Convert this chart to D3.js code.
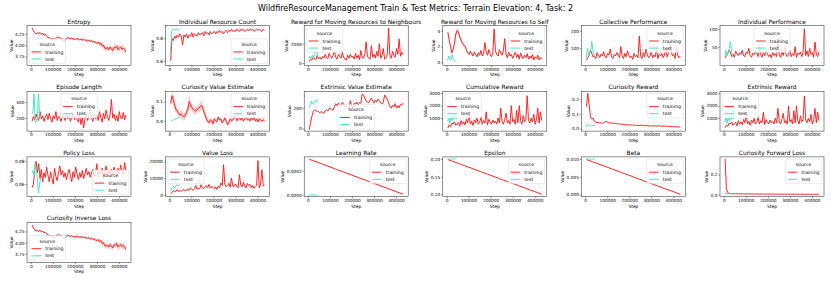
<!DOCTYPE html>
<html><head><meta charset="utf-8">
<script src="https://cdn.jsdelivr.net/npm/d3@7"></script>
<style>body{margin:0;background:#fff}svg{display:block}text{font-family:"DejaVu Sans",sans-serif;fill:#000}</style>
</head><body><svg id="c" width="831" height="283"></svg>
<script>
// ---------- DATA ----------
const suptitle = "WildfireResourceManagement Train & Test Metrics: Terrain Elevation: 4, Task: 2";
const seriesNames = ["training", "test"];
const xTickLabels = ["0","100000","200000","300000","400000"];

const trainSteps = [6000,12000,18000,24000,30000,36000,42000,48000,54000,60000,66000,72000,
78000,84000,90000,96000,102000,108000,114000,120000,126000,132000,138000,144000,
150000,156000,162000,168000,174000,180000,186000,192000,198000,204000,210000,216000,
222000,228000,234000,240000,246000,252000,258000,264000,270000,276000,282000,288000,
294000,300000,306000,312000,318000,324000,330000,336000,342000,348000,354000,360000,
366000,372000,378000,384000,390000,396000,402000,408000,414000,420000,426000,432000];
const testSteps = [5000,10000,15000,20000,25000,30000,35000,40000,45000];
const linSteps = [6000,60000,120000,180000,240000,300000,360000,432000];

const entropyTrain = [4.38,4.32,4.28,4.25,4.27,4.26,4.28,4.24,4.26,4.22,4.24,4.20,
4.17,4.16,4.15,4.14,4.15,4.13,4.15,4.17,4.18,4.15,4.16,4.13,
4.08,4.10,4.15,4.17,4.15,4.14,4.16,4.13,4.14,4.12,4.15,4.13,
4.12,4.13,4.11,4.13,4.10,4.12,4.09,4.11,4.08,4.10,4.07,4.08,
4.06,4.04,4.07,4.02,4.05,3.98,4.00,3.93,3.92,3.95,3.90,3.96,
3.92,3.88,3.95,3.94,3.98,3.90,3.93,3.96,3.91,3.94,3.90,3.85];
const entropyBand = [0.01,0.01,0.01,0.015,0.01,0.01,0.01,0.015,0.01,0.01,0.015,0.01,
0.015,0.01,0.01,0.015,0.02,0.01,0.015,0.01,0.02,0.015,0.01,0.015,
0.02,0.015,0.02,0.015,0.01,0.015,0.02,0.015,0.02,0.015,0.02,0.015,
0.02,0.02,0.025,0.02,0.03,0.02,0.025,0.03,0.02,0.03,0.025,0.03,
0.03,0.04,0.03,0.05,0.04,0.06,0.05,0.06,0.05,0.07,0.06,0.05,
0.06,0.08,0.05,0.07,0.06,0.09,0.07,0.06,0.08,0.07,0.06,0.07];
const entropyTest = [3.70,3.64,3.60,3.66,3.72,3.68,3.75,3.70,3.73];

const ircTrain = [0.60,0.80,0.78,0.82,0.80,0.83,0.81,0.84,0.82,0.74,0.83,0.81,
0.84,0.80,0.83,0.82,0.85,0.81,0.84,0.83,0.82,0.85,0.83,0.84,
0.85,0.82,0.86,0.84,0.85,0.83,0.86,0.84,0.85,0.86,0.84,0.86,
0.85,0.87,0.85,0.86,0.84,0.86,0.87,0.85,0.87,0.86,0.88,0.86,
0.87,0.86,0.88,0.87,0.86,0.88,0.87,0.88,0.86,0.87,0.88,0.87,
0.88,0.87,0.88,0.86,0.87,0.88,0.87,0.88,0.87,0.86,0.88,0.87];
const ircTest = [0.66,0.86,0.88,0.88,0.875,0.88,0.885,0.87,0.875];

const neighTrain = [150,400,300,600,500,350,800,450,600,400,700,500,
900,600,450,1000,700,500,800,1200,600,400,900,700,
500,1100,600,400,300,800,500,900,600,700,400,1000,
500,800,350,1300,600,500,900,2200,700,500,400,1800,
600,900,500,1200,700,2000,500,800,1500,400,600,900,
3600,700,500,1200,800,600,1500,900,2500,700,1100,900];
const neighTest = [400,700,500,800,600,900,1200,1300,700];

const selfTrain = [3.8,2.8,2.0,1.2,1.6,2.4,3.6,4.0,3.8,3.2,2.8,2.4,
2.2,2.0,1.6,1.2,1.0,1.4,1.1,0.8,1.3,1.0,0.7,1.2,
0.9,1.5,0.8,1.1,2.5,1.3,0.9,1.6,1.0,0.7,1.2,4.2,
1.4,1.0,0.8,1.6,1.2,0.9,1.5,3.0,1.0,0.6,1.3,0.8,
1.0,0.5,0.9,1.4,0.6,1.0,0.4,1.2,0.7,0.5,0.9,0.6,
1.1,0.4,0.8,0.5,1.0,0.3,0.7,0.5,0.9,0.3,0.6,0.4];
const selfBand = [0.2,0.3,0.3,0.2,0.2,0.3,0.4,0.4,0.4,0.3,0.3,0.3,
0.2,0.2,0.2,0.15,0.15,0.2,0.15,0.1,0.15,0.1,0.1,0.15,
0.1,0.15,0.1,0.1,0.2,0.1,0.1,0.15,0.1,0.1,0.1,0.3,
0.1,0.1,0.1,0.1,0.1,0.1,0.1,0.2,0.1,0.1,0.1,0.1,
0.1,0.08,0.1,0.1,0.08,0.1,0.08,0.1,0.08,0.08,0.1,0.08,
0.1,0.08,0.1,0.08,0.1,0.06,0.08,0.06,0.1,0.06,0.08,0.06];
const selfTest = [0.2,0.8,0.4,0.3,1.0,0.6,0.2,0.1,0.0];

const collTrain = [30,45,60,90,70,50,55,40,75,60,45,65,
55,80,50,45,70,60,95,50,40,65,55,75,
60,45,110,55,40,70,50,85,60,45,55,35,
70,50,60,45,170,55,40,75,50,95,60,45,
55,80,45,60,50,100,40,65,55,70,45,60,
100,50,75,130,90,55,65,40,110,60,45,55];
const collTest = [40,100,60,70,80,140,90,60,50];

const indPerfTrain = [18,25,30,40,35,22,28,20,38,30,25,33,
28,40,25,22,35,30,45,25,20,32,28,38,
30,22,50,28,20,35,25,42,30,22,28,18,
35,25,30,22,70,28,20,38,25,48,30,22,
28,40,22,30,25,50,20,32,28,35,22,35,
100,25,38,22,45,28,33,20,63,30,22,35];
const indPerfTest = [20,40,25,35,45,65,40,25,20];

const epLenTrain = [160,220,180,250,200,170,280,190,230,160,210,250,
180,260,200,150,230,190,280,170,220,200,160,240,
210,170,250,190,230,160,200,270,180,220,190,150,
240,120,210,80,190,260,170,230,350,200,160,250,
190,230,170,280,210,150,260,190,300,220,170,240,
430,200,250,170,230,160,280,200,190,270,180,240];
const epLenTest = [250,280,500,150,160,200,500,250,200];

const cveTrain = [0.09,0.13,0.11,0.08,0.06,0.05,0.04,0.03,0.035,0.025,0.02,0.03,
0.045,0.06,0.10,0.085,0.07,0.06,0.055,0.05,0.06,0.065,0.07,0.08,
0.075,0.05,0.03,0.01,0.0,-0.01,0.005,0.0,-0.015,0.01,0.0,-0.005,
0.02,0.005,0.01,-0.01,0.0,0.015,0.0,-0.02,-0.01,0.01,0.0,0.005,
0.015,0.025,0.0,0.01,0.02,0.005,0.015,0.0,0.01,0.02,0.005,0.01,
0.0,0.015,0.005,0.02,0.0,0.01,-0.005,0.01,0.005,0.0,0.005,0.0];
const cveBand = [0.02,0.03,0.03,0.03,0.02,0.02,0.02,0.02,0.02,0.02,0.02,0.02,
0.02,0.03,0.04,0.03,0.02,0.02,0.02,0.02,0.02,0.02,0.02,0.03,
0.02,0.02,0.02,0.02,0.015,0.015,0.015,0.015,0.015,0.015,0.015,0.015,
0.01,0.012,0.01,0.012,0.01,0.012,0.01,0.012,0.01,0.012,0.01,0.012,
0.01,0.012,0.01,0.012,0.01,0.012,0.01,0.012,0.01,0.012,0.01,0.012,
0.01,0.012,0.01,0.012,0.01,0.012,0.01,0.012,0.01,0.012,0.01,0.01];
const cveTest = [0.0,-0.002,0.002,0.005,0.008,0.01,0.012,0.015,0.02];

const eveTrain = [-10,60,120,170,185,175,170,165,155,165,160,150,
175,185,170,195,200,190,180,215,245,225,250,235,
220,260,240,210,225,200,190,275,230,200,250,240,
260,230,255,250,340,330,300,270,260,255,280,300,
270,250,280,260,290,275,250,240,260,330,310,290,
250,220,200,230,215,245,200,225,205,240,230,250];
const eveTest = [210,230,270,240,260,250,275,265,285];

const cumRewTrain = [200,450,300,600,500,700,400,550,650,350,800,500,
700,450,900,600,1300,500,750,400,850,600,1000,500,
650,1100,500,800,600,1500,450,900,700,500,850,600,
750,500,1000,600,1800,700,500,900,1400,600,800,500,
2000,700,900,500,1600,600,2000,800,500,1200,700,900,
2800,800,600,1000,700,1300,500,900,1800,600,1500,800];
const cumRewTest = [700,1000,600,1100,800,1200,900,2000,900];

const curRewTrain = [0.15,0.24,0.16,0.08,0.065,0.07,0.05,0.045,0.04,0.042,0.038,0.04,
0.035,0.04,0.045,0.05,0.042,0.038,0.04,0.036,0.038,0.034,0.036,0.032,
0.033,0.03,0.032,0.028,0.03,0.027,0.025,0.028,0.024,0.026,0.023,0.025,
0.022,0.024,0.021,0.023,0.02,0.022,0.025,0.019,0.021,0.02,0.022,0.018,
0.02,0.018,0.021,0.017,0.019,0.016,0.018,0.02,0.015,0.017,0.016,0.018,
0.015,0.017,0.014,0.016,0.013,0.015,0.014,0.012,0.013,0.011,0.012,0.01];
const curRewTest = [0.01,0.03,0.025,0.02,0.025,0.018,0.022,0.02,0.025];

const extRewTrain = [220,430,320,580,520,690,420,560,640,370,790,510,
690,470,880,620,1280,520,740,420,840,610,980,520,
640,1080,520,790,620,1480,470,880,690,520,840,620,
740,520,980,620,1780,690,520,880,1380,620,790,520,
1980,690,880,520,1580,620,1980,790,520,1180,690,880,
2780,790,620,980,690,1280,520,880,1780,620,1480,790];
const extRewTest = [700,1000,600,1100,800,1200,900,2000,900];

const policyTrain = [0.057,0.060,0.072,0.080,0.070,0.078,0.065,0.073,0.062,0.070,0.066,0.075,
0.068,0.062,0.071,0.065,0.060,0.074,0.067,0.063,0.070,0.076,0.068,0.072,
0.066,0.070,0.064,0.069,0.073,0.067,0.062,0.071,0.066,0.075,0.069,0.064,
0.070,0.066,0.072,0.065,0.069,0.074,0.068,0.071,0.066,0.070,0.073,0.067,
0.069,0.078,0.066,0.072,0.068,0.074,0.065,0.071,0.076,0.067,0.072,0.069,
0.073,0.068,0.075,0.070,0.066,0.074,0.069,0.077,0.071,0.068,0.079,0.072];
const policyTest = [0.070,0.072,0.068,0.078,0.072,0.065,0.052,0.060,0.065];

const valueLossTrain = [500,1200,2500,1800,2200,3000,1900,2400,2100,2600,3200,2200,
2800,3500,2600,4200,3100,2700,3800,5500,3200,4000,3600,6000,
4200,3800,4800,5500,4300,6200,3900,5000,4400,3600,4800,3200,
5200,4100,7000,5600,18000,6200,4800,5400,6800,4500,10000,5200,
4800,6500,5300,4200,12000,5800,4600,7500,5200,4000,6800,5500,
6200,4300,5700,3800,4900,5500,20500,4200,6500,15000,5300,6000];
const valueLossTest = [2000,3500,4500,5000,4200,5500,6000,5200,6000];

const lrTrain = [0.000296,0.000259,0.000218,0.000177,0.000136,0.0000955,0.0000545,0.0000055];
const lrTest = [0,0,0,0,0,0,0,0,0];
const epsTrain = [0.1986,0.1861,0.1722,0.1583,0.1444,0.1306,0.1167,0.1000];
const epsTest = [0.2,0.2,0.2,0.2,0.2,0.2,0.2,0.2,0.2];
const betaTrain = [0.00986,0.00862,0.00724,0.00586,0.00448,0.0031,0.00172,0.00007];
const betaTest = [0.01,0.01,0.01,0.01,0.01,0.01,0.01,0.01,0.01];

const cflTrain = [0.355,0.06,0.02,0.014,0.012,0.011,0.010,0.010,0.009,0.009,0.0085,0.0085,
0.008,0.008,0.0078,0.0076,0.0075,0.0074,0.0072,0.0071,0.007,0.0069,0.0068,0.0067,
0.0066,0.0065,0.0064,0.0063,0.0062,0.0061,0.006,0.006,0.0059,0.0058,0.0057,0.0057,
0.0056,0.0055,0.0055,0.0054,0.0053,0.0053,0.0052,0.0051,0.0051,0.005,0.005,0.0049,
0.0049,0.0048,0.0048,0.0047,0.0047,0.0046,0.0046,0.0045,0.0045,0.0044,0.0044,0.0043,
0.0043,0.0042,0.0042,0.0041,0.0041,0.004,0.004,0.0039,0.0039,0.0038,0.0038,0.0037];
const cflTest = [0.012,0.011,0.010,0.010,0.009,0.009,0.009,0.008,0.008];

const cilTrain = [4.39,4.33,4.28,4.26,4.27,4.25,4.28,4.24,4.26,4.22,4.23,4.20,
4.17,4.16,4.15,4.14,4.16,4.13,4.15,4.17,4.18,4.15,4.16,4.13,
4.08,4.10,4.15,4.17,4.15,4.14,4.16,4.13,4.14,4.12,4.15,4.13,
4.12,4.13,4.11,4.13,4.10,4.12,4.09,4.11,4.08,4.10,4.07,4.08,
4.06,4.04,4.07,4.02,4.05,3.98,4.00,3.93,3.92,3.95,3.90,3.96,
3.92,3.88,3.95,3.94,3.98,3.90,3.93,3.96,3.91,3.94,3.90,3.85];
const cilBand = entropyBand;
const cilTest = [3.70,3.64,3.62,3.66,3.72,3.68,3.75,3.70,3.73];

const titles = ["Entropy","Individual Resource Count","Reward for Moving Resources to Neighbours","Reward for Moving Resources to Self","Collective Performance","Individual Performance",
"Episode Length","Curiosity Value Estimate","Extrinsic Value Estimate","Cumulative Reward","Curiosity Reward","Extrinsic Reward",
"Policy Loss","Value Loss","Learning Rate","Epsilon","Beta","Curiosity Forward Loss","Curiosity Inverse Loss"];
const yTickLabels = [["3.75","4.00","4.25"],["0.6","0.8"],["0","2000"],["0","2","4"],["100","200"],["50","100"],
["200","400"],["0.0","0.1"],["0","200"],["1000","2000","3000"],["0.0","0.1","0.2"],["1000","2000","3000"],
["0.06","0.08"],["0","10000","20000"],["0.0000","0.0002"],["0.10","0.15","0.20"],["0.000","0.005","0.010"],["0.0","0.2"],["3.75","4.00","4.25"]];
const yLimits = [[3.55,4.43],[0.56,0.911],[-250,3850],[-0.4,4.63],[0,230],[-3,109],
[40,530],[-0.053,0.153],[-25,366],[-50,3150],[-0.017,0.254],[-50,3150],
[0.0489,0.084],[-1200,22700],[-0.000015,0.000315],[0.093,0.206],[-0.0006,0.0106],[-0.02,0.374],[3.56,4.45]];
const legendLocs = ["lower left","lower right","upper left","upper right","upper right","upper center",
"upper center","upper right","lower center","upper left","upper right","upper left",
"lower right","upper left","upper right","upper right","upper right","upper right","lower left"];

const trainSeries = [entropyTrain,ircTrain,neighTrain,selfTrain,collTrain,indPerfTrain,epLenTrain,cveTrain,eveTrain,cumRewTrain,curRewTrain,extRewTrain,policyTrain,valueLossTrain,lrTrain,epsTrain,betaTrain,cflTrain,cilTrain];
const trainBands = [entropyBand,null,null,selfBand,null,null,null,cveBand,null,null,null,null,null,null,null,null,null,null,cilBand];
const testSeries = [entropyTest,ircTest,neighTest,selfTest,collTest,indPerfTest,epLenTest,cveTest,eveTest,cumRewTest,curRewTest,extRewTest,policyTest,valueLossTest,lrTest,epsTest,betaTest,cflTest,cilTest];
const trainStepSets = trainSeries.map(a => a.length === linSteps.length ? linSteps : trainSteps);

// ---------- DRAW ----------
const RED = "#ff1a1a", TEAL = "#40e6c0";
const colors = [RED, TEAL];
const svg = d3.select("#c");
const AW = 104, AH = 39.8;
const colX = c => 27 + c * 138.6;
const rowY = r => 25.7 + r * 65.6;
const xDomain = [-17000, 455000];
const FT = 4.3, FL = 4.4, FTITLE = 5.9, FLEG = 4.7, LINEW = 0.95;

svg.append("text").attr("x", 415.5).attr("y", 10.5).attr("text-anchor", "middle")
  .attr("font-size", 8.0).text(suptitle);

const defs = svg.append("defs");

titles.forEach((title, i) => {
  const r = Math.floor(i / 6), c = i % 6;
  const ax = {x: colX(c), y: rowY(r)};
  const g = svg.append("g").attr("transform", `translate(${ax.x},${ax.y})`);
  const x = d3.scaleLinear().domain(xDomain).range([0, AW]);
  const y = d3.scaleLinear().domain(yLimits[i]).range([AH, 0]);
  defs.append("clipPath").attr("id", "clip" + i).append("rect").attr("width", AW).attr("height", AH);
  const plot = g.append("g").attr("clip-path", `url(#clip${i})`);

  const tr = trainStepSets[i].map((s, k) => ({s, v: trainSeries[i][k], b: trainBands[i] ? trainBands[i][k] : 0}));
  const te = testSteps.map((s, k) => ({s, v: testSeries[i][k]}));
  if (trainBands[i]) {
    plot.append("path").datum(tr)
      .attr("d", d3.area().x(d => x(d.s)).y0(d => y(d.v - d.b)).y1(d => y(d.v + d.b)))
      .attr("fill", RED).attr("fill-opacity", 0.2).attr("stroke", "none");
  }
  const line = d3.line().x(d => x(d.s)).y(d => y(d.v));
  plot.append("path").datum(tr).attr("d", line).attr("fill", "none").attr("stroke", RED)
    .attr("stroke-width", LINEW).attr("stroke-linejoin", "round");
  plot.append("path").datum(te).attr("d", line).attr("fill", "none").attr("stroke", TEAL)
    .attr("stroke-width", LINEW).attr("stroke-linejoin", "round");

  // axes
  const xa = g.append("g").attr("transform", `translate(0,${AH})`)
    .call(d3.axisBottom(x).tickValues(xTickLabels.map(Number)).tickSize(1.7).tickPadding(0.6).tickFormat(d3.format("d")));
  const ya = g.append("g")
    .call(d3.axisLeft(y).tickValues(yTickLabels[i].map(Number)).tickSize(1.7).tickPadding(0.8)
      .tickFormat((d, k) => yTickLabels[i][k]));
  [xa, ya].forEach(a => {
    a.select(".domain").remove();
    a.selectAll("line").attr("stroke", "#222").attr("stroke-width", 0.45);
    a.selectAll("text").attr("font-size", FT).attr("fill", "#000").attr("font-family", "DejaVu Sans");
  });
  g.append("rect").attr("width", AW).attr("height", AH).attr("fill", "none")
    .attr("stroke", "#222").attr("stroke-width", 0.5);

  g.append("text").attr("x", AW / 2).attr("y", -2.2).attr("text-anchor", "middle")
    .attr("font-size", FTITLE).text(title);
  g.append("text").attr("x", AW / 2).attr("y", AH + 11).attr("text-anchor", "middle")
    .attr("font-size", FL).text("Step");
  const bb = ya.node().getBBox();
  g.append("text").attr("transform", `translate(${bb.x - 2.4},${AH / 2}) rotate(-90)`)
    .attr("text-anchor", "middle").attr("font-size", FL).text("Value");

  // legend
  const lg = g.append("g");
  const tmp = lg.append("text").attr("font-size", FLEG).text("training");
  const tw = tmp.node().getComputedTextLength();
  tmp.remove();
  const LW = 16 + tw + 2.2, LH = 24.5, pad = 2.2;
  const loc = legendLocs[i];
  let lx, ly;
  if (loc.includes("left")) lx = pad; else if (loc.includes("right")) lx = AW - pad - LW; else lx = (AW - LW) / 2;
  if (loc.startsWith("upper")) ly = pad; else if (loc.startsWith("lower")) ly = AH - pad - LH; else ly = (AH - LH) / 2;
  lg.attr("transform", `translate(${lx},${ly})`);
  lg.append("rect").attr("width", LW).attr("height", LH).attr("rx", 1).attr("fill", "#fff")
    .attr("fill-opacity", 0.8).attr("stroke", "#cccccc").attr("stroke-width", 0.4);
  lg.append("text").attr("x", LW / 2).attr("y", 5.3).attr("dy", "0.35em").attr("text-anchor", "middle")
    .attr("font-size", FLEG).text("source");
  seriesNames.forEach((nm, k) => {
    const cy = 13.1 + k * 7.1;
    lg.append("line").attr("x1", 2.3).attr("x2", 11.8).attr("y1", cy).attr("y2", cy)
      .attr("stroke", colors[k]).attr("stroke-width", LINEW);
    lg.append("text").attr("x", 16).attr("y", cy).attr("dy", "0.35em").attr("font-size", FLEG).text(nm);
  });
});
</script></body></html>
